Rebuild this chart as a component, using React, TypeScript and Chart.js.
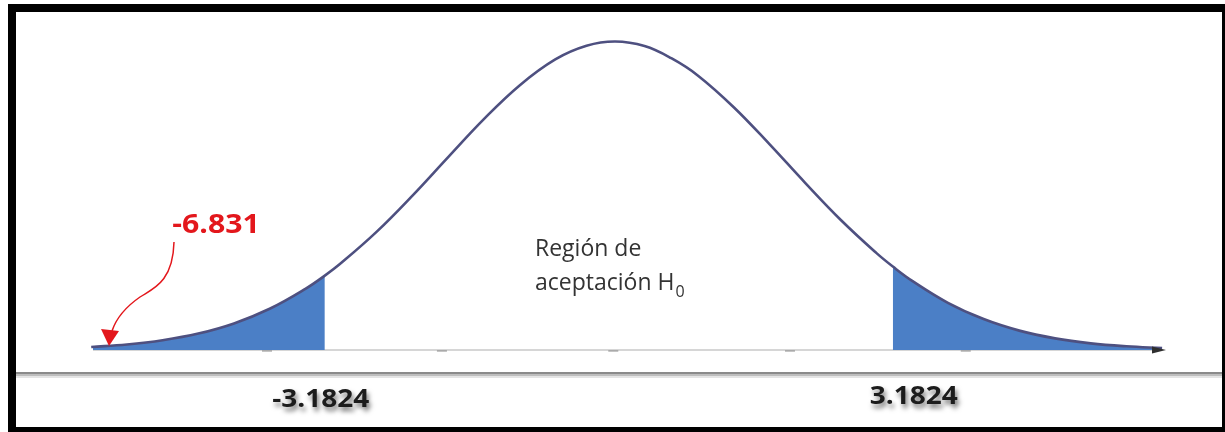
import React, { useEffect, useRef } from "react";
import { Chart, registerables } from "chart.js";

Chart.register(...registerables);

// Sampled bell curve: positions along the t axis and curve heights
const T_POSITIONS = [
  -5.8, -5.4, -5.0, -4.6, -4.2, -3.8, -3.4, -3.1824, -3.0, -2.6, -2.2, -1.8, -1.4, -1.0,
  -0.6, -0.25, 0.07, 0.4, 0.7, 1.0, 1.4, 1.8, 2.2, 2.6, 3.0, 3.1824, 3.4, 3.8, 4.2, 4.6,
  5.0, 5.4, 5.8, 6.2,
];
const CURVE_HEIGHTS = [
  0.0039, 0.0071, 0.0126, 0.0212, 0.0343, 0.0532, 0.0789, 0.096, 0.1122, 0.1527, 0.1992,
  0.2489, 0.2979, 0.3414, 0.3749, 0.3925, 0.398, 0.3922, 0.3765, 0.354, 0.3133, 0.2656,
  0.2157, 0.1678, 0.125, 0.1077, 0.0892, 0.0609, 0.0399, 0.025, 0.015, 0.0086, 0.0048,
  0.0025,
];

// Critical values of the two-tailed test and the observed statistic
const CRITICAL_LOW = -3.1824;
const CRITICAL_HIGH = 3.1824;
const CRITICAL_LABELS = ["-3.1824", "3.1824"];
const STATISTIC_LABEL = "-6.831";
const REGION_LINES = ["Región de", "aceptación H"];
const REGION_SUBSCRIPT = "0";

// Faint marks along the horizontal axis
const AXIS_MARKS = [-3.83, -1.87, 0.05, 2.03, 4.0];

const X_MIN = -5.78;
const X_MAX = 6.21;
const Y_MAX = 0.4;

const W = 1225;
const H = 432;

const points = T_POSITIONS.map((x, i) => ({ x, y: CURVE_HEIGHTS[i] }));
const leftTail = points.filter((p) => p.x <= CRITICAL_LOW);
const rightTail = points.filter((p) => p.x >= CRITICAL_HIGH);

const decorPlugin = {
  id: "decor",
  beforeDatasetsDraw(chart: any) {
    const { ctx, scales } = chart;
    const xs = scales.x;
    const ys = scales.y;
    const y0 = ys.getPixelForValue(0);
    ctx.save();
    // horizontal axis
    ctx.strokeStyle = "#d6d6d6";
    ctx.lineWidth = 2;
    ctx.beginPath();
    ctx.moveTo(xs.left, y0);
    ctx.lineTo(xs.right - 6, y0);
    ctx.stroke();
    ctx.strokeStyle = "rgba(90,90,90,0.35)";
    ctx.lineWidth = 2;
    AXIS_MARKS.forEach((v) => {
      const px = xs.getPixelForValue(v);
      ctx.beginPath();
      ctx.moveTo(px - 5, y0 + 1);
      ctx.lineTo(px + 5, y0 + 1);
      ctx.stroke();
    });
    ctx.restore();
  },
  afterDraw(chart: any) {
    const { ctx, scales } = chart;
    const xs = scales.x;
    const ys = scales.y;
    const y0 = ys.getPixelForValue(0);
    ctx.save();

    // arrow head at the right end of the axis
    ctx.fillStyle = "#2f2f2f";
    ctx.beginPath();
    ctx.moveTo(xs.right + 3, y0);
    ctx.lineTo(xs.right - 11, y0 - 3.5);
    ctx.lineTo(xs.right - 11, y0 + 3.5);
    ctx.closePath();
    ctx.fill();

    // frame
    ctx.fillStyle = "#000";
    ctx.fillRect(8, 4, 8, H - 4);
    ctx.fillRect(8, 4, W - 8, 8);
    ctx.fillRect(1222, 4, 3, H - 4);
    ctx.fillRect(8, 427, W - 8, 5);

    // separator under the plot
    ctx.fillStyle = "#8a8a8a";
    ctx.fillRect(16, 372, 1206, 2);
    ctx.fillStyle = "#bdbdbd";
    ctx.fillRect(16, 374, 1206, 2);
    ctx.fillStyle = "#e4e4e4";
    ctx.fillRect(16, 376, 1206, 2);

    // critical value labels
    const drawStretched = (text: string, cx: number, baseline: number, font: string, color: string, shadow: boolean) => {
      ctx.save();
      ctx.font = font;
      ctx.fillStyle = color;
      ctx.textAlign = "center";
      ctx.textBaseline = "alphabetic";
      if (shadow) {
        ctx.shadowColor = "rgba(0,0,0,0.55)";
        ctx.shadowBlur = 5;
        ctx.shadowOffsetX = 2;
        ctx.shadowOffsetY = 4;
      }
      ctx.translate(cx, baseline);
      ctx.scale(1.12, 1);
      ctx.fillText(text, 0, 0);
      ctx.restore();
    };
    const bold = "bold 25px 'Open Sans', sans-serif";
    drawStretched(CRITICAL_LABELS[0], xs.getPixelForValue(CRITICAL_LOW) - 4, 407, bold, "#1c1c1c", true);
    drawStretched(CRITICAL_LABELS[1], xs.getPixelForValue(CRITICAL_HIGH) + 21, 404, bold, "#1c1c1c", true);

    // observed statistic with a curved pointer
    drawStretched(STATISTIC_LABEL, 216, 233, "bold 27px 'Open Sans', sans-serif", "#e3171c", false);
    ctx.strokeStyle = "#e3171c";
    ctx.lineWidth = 1.5;
    ctx.beginPath();
    ctx.moveTo(174, 242);
    ctx.bezierCurveTo(173, 283, 152, 289, 140, 297);
    ctx.bezierCurveTo(127, 306, 117, 316, 112, 331);
    ctx.stroke();
    ctx.fillStyle = "#e3171c";
    ctx.beginPath();
    ctx.moveTo(109, 346);
    ctx.lineTo(101, 329);
    ctx.lineTo(119, 331);
    ctx.closePath();
    ctx.fill();

    // acceptance region text
    ctx.font = "23px 'Open Sans', sans-serif";
    ctx.fillStyle = "#333";
    ctx.textAlign = "left";
    ctx.textBaseline = "alphabetic";
    ctx.fillText(REGION_LINES[0], 535, 256);
    ctx.fillText(REGION_LINES[1], 535, 290);
    const wLine = ctx.measureText(REGION_LINES[1]).width;
    ctx.font = "16px 'Open Sans', sans-serif";
    ctx.fillText(REGION_SUBSCRIPT, 535 + wLine + 1, 297);

    ctx.restore();
  },
};

export default function App() {
  const canvasRef = useRef<HTMLCanvasElement | null>(null);

  useEffect(() => {
    if (!canvasRef.current) return;
    const chart = new Chart(canvasRef.current, {
      type: "line",
      data: {
        datasets: [
          {
            data: points,
            borderColor: "#4e5080",
            borderWidth: 2.6,
            pointRadius: 0,
            fill: false,
            tension: 0.4,
            clip: false,
            order: 0,
          },
          {
            data: leftTail,
            borderWidth: 0,
            borderColor: "rgba(0,0,0,0)",
            backgroundColor: "#4b7fc6",
            pointRadius: 0,
            fill: "origin",
            tension: 0.4,
            order: 1,
          },
          {
            data: rightTail,
            borderWidth: 0,
            borderColor: "rgba(0,0,0,0)",
            backgroundColor: "#4b7fc6",
            pointRadius: 0,
            fill: "origin",
            tension: 0.4,
            order: 1,
          },
        ] as any,
      },
      options: {
        responsive: false,
        animation: false,
        layout: { padding: { left: 93, right: 62, top: 40, bottom: 82 } },
        plugins: {
          legend: { display: false },
          tooltip: { enabled: false },
        },
        scales: {
          x: { type: "linear", min: X_MIN, max: X_MAX, display: false },
          y: { type: "linear", min: 0, max: Y_MAX, display: false },
        },
      },
      plugins: [decorPlugin],
    });
    return () => chart.destroy();
  }, []);

  return (
    <div style={{ position: "absolute", left: 0, top: 0, width: W, height: H, background: "#fff" }}>
      <canvas ref={canvasRef} width={W} height={H} style={{ display: "block" }} />
    </div>
  );
}
